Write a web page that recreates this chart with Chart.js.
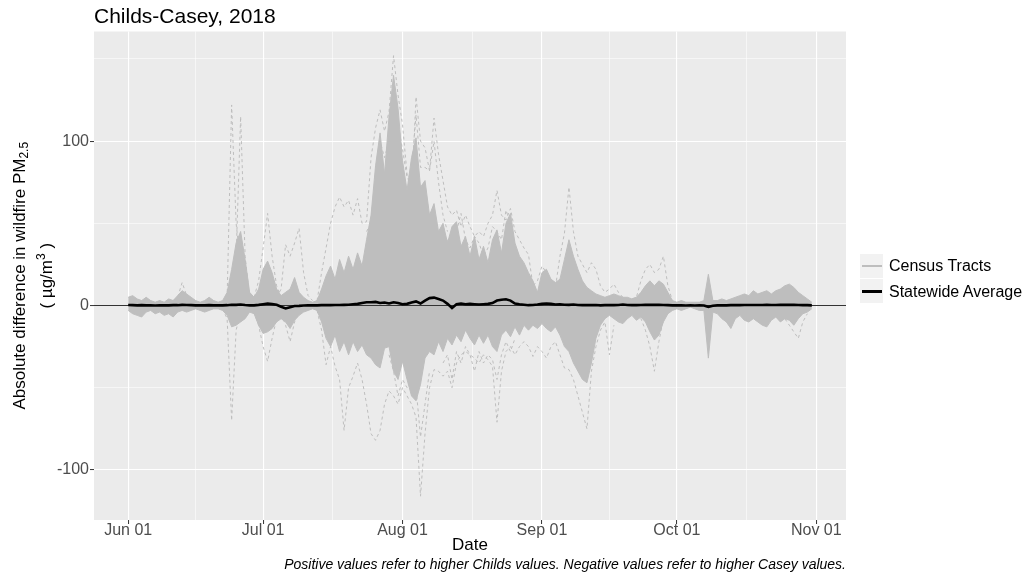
<!DOCTYPE html>
<html>
<head>
<meta charset="utf-8">
<script src="https://cdn.jsdelivr.net/npm/chart.js@4.4.1/dist/chart.umd.min.js"></script>
<style>
html, body { margin: 0; padding: 0; background: #ffffff; }
#wrap { position: relative; width: 1031px; height: 578px; overflow: hidden; }
#c { position: absolute; left: 0; top: 0; }
.lgtxt { position: absolute; font-family: "Liberation Sans", Arial, Helvetica, sans-serif; font-size: 16px; color: #000; height: 20px; line-height: 20px; white-space: nowrap; }
.lgkey { position: absolute; background: #F2F2F2; }
.lgline { position: absolute; }
</style>
</head>
<body>
<div id="wrap">
  <canvas id="c" width="1031" height="578"></canvas>
  <div class="lgkey" style="left:860px;top:254px;width:23px;height:24px;"></div>
  <div class="lgkey" style="left:860px;top:279px;width:23px;height:24px;"></div>
  <div class="lgline" style="left:862px;top:265px;width:20px;height:2px;background:#BEBEBE;"></div>
  <div class="lgline" style="left:862px;top:290px;width:20px;height:3px;background:#000;"></div>
  <div class="lgtxt" style="left:889px;top:256px;">Census Tracts</div>
  <div class="lgtxt" style="left:889px;top:282px;">Statewide Average</div>
</div>
<script>
// ---------- DATA (day index 0 = Jun 01, 2018) ----------
const days = [];
for (let d = 0; d <= 152; d++) days.push(d);

const statewideAvg = [
  0.3,0.2,0.1,0.2,0.1,0.1,0.0,0.1,0.1,0.1,
  0.2,0.2,0.4,0.3,0.2,0.1,0.1,0.1,0.2,0.1,
  0.1,0.1,0.2,0.5,0.4,0.6,0.3,0.1,0.1,0.4,
  0.8,1.2,0.9,0.4,-0.8,-1.8,-1.0,-0.3,-0.2,0.0,
  0.1,0.1,0.1,0.2,0.3,0.2,0.3,0.3,0.4,0.5,
  0.8,1.0,1.5,2.0,2.0,2.2,1.5,1.8,1.2,2.0,
  1.5,0.8,1.0,1.8,2.5,1.2,3.0,4.5,4.8,4.0,
  3.0,1.0,-1.5,0.8,1.2,0.8,1.0,0.8,0.6,0.8,
  1.0,1.5,3.0,3.5,3.8,3.0,1.2,0.8,0.5,0.2,
  0.3,0.6,1.0,1.2,1.0,0.6,0.8,0.5,0.4,0.6,
  0.3,0.2,0.3,0.2,0.3,0.1,0.2,0.3,0.2,0.3,
  0.6,0.3,0.2,0.2,0.3,0.4,0.5,0.4,0.5,0.3,
  0.2,0.1,0.1,0.1,0.0,0.1,0.0,0.1,0.0,-0.8,
  -0.2,0.1,0.1,0.1,0.2,0.2,0.2,0.3,0.3,0.3,
  0.3,0.3,0.4,0.3,0.3,0.4,0.4,0.5,0.4,0.3,
  0.2,0.2,0.1
];

// upper edge of the dense bundle of census-tract lines
const tractsUpper = [
  5,6,4,3,5,3,2,3,2,4,
  3,6,9,7,5,3,2,3,5,3,
  2,3,8,22,38,45,28,8,5,10,
  22,27,20,10,6,8,10,17,8,5,
  3,2,3,10,18,24,16,28,20,30,
  22,32,24,40,55,85,105,80,115,140,
  120,88,70,90,102,72,76,55,62,45,
  50,38,48,51,36,42,30,42,28,36,
  26,40,46,32,50,56,38,30,26,20,
  15,8,20,22,16,14,16,28,40,30,
  22,15,11,9,7,6,5,6,7,6,
  5,5,4,5,8,12,15,12,15,13,
  8,3,2,3,2,2,2,2,3,19,
  3,3,4,3,4,5,6,7,6,9,
  7,8,9,7,9,10,12,13,11,8,
  6,4,2
];

// lower edge of the dense bundle of census-tract lines
const tractsLower = [
  -3,-5,-6,-7,-4,-3,-5,-4,-6,-5,
  -7,-4,-3,-4,-3,-2,-3,-4,-3,-2,
  -2,-3,-6,-13,-12,-10,-8,-4,-5,-12,
  -17,-16,-14,-10,-8,-10,-14,-9,-6,-4,
  -3,-2,-3,-10,-20,-25,-18,-28,-22,-30,
  -22,-28,-24,-30,-32,-36,-38,-26,-25,-40,
  -45,-34,-45,-55,-58,-48,-32,-28,-30,-22,
  -28,-20,-24,-18,-22,-15,-20,-24,-18,-23,
  -18,-25,-28,-18,-15,-19,-13,-18,-12,-15,
  -12,-14,-11,-14,-16,-13,-18,-25,-28,-35,
  -40,-45,-47,-35,-20,-12,-8,-6,-8,-10,
  -11,-8,-6,-9,-7,-10,-16,-21,-18,-10,
  -5,-3,-2,-3,-2,-1,-2,-3,-3,-32,
  -4,-5,-8,-10,-14,-8,-6,-9,-10,-8,
  -10,-12,-13,-9,-7,-10,-8,-9,-12,-8,
  -5,-4,-2
];

// individual extreme census tracts (dashed lines)
const tractA_days = [21,22,23,24,25,26,27];
const tractA_vals = [2,5,122,50,25,8,3];
const tractB_days = [22,23,24,25,26,27];
const tractB_vals = [3,10,30,115,30,5];
const tractC_days = [21,22,23,24,25];
const tractC_vals = [-2,-8,-70,-15,-4];
const tractD_days = [28,29,30,31,32,33,34];
const tractD_vals = [5,15,35,56,30,12,5];
const tractE_days = [28,29,30,31,32,33,34];
const tractE_vals = [-4,-12,-25,-34,-20,-8,-3];
const tractF_days = [33,34,35,36,37,38,39,40,41];
const tractF_vals = [5,10,37,30,38,47,20,6,3];
const tractG_days = [34,35,36,37,38];
const tractG_vals = [-5,-12,-22,-10,-4];
const tractH_days = [42,43,44,45,46,47,48,49,50,51,52,53,54,55,56,57,58,59,60,61,62,63,64,65,66,67,68,69,70,71,72,73,74,75,76,77,78,79,80,81,82,83,84,85,86,87,88,89,90,91,92,93,94,95,96,97,98,99,100,101,102,103,104,105,106,107,108,109,110];
const tractH_vals = [3,20,35,50,60,66,60,64,55,65,50,51,90,108,119,106,118,152,128,110,80,68,127,100,96,82,114,92,76,60,55,58,48,55,48,42,45,42,50,55,70,55,52,59,45,40,35,31,12,15,24,20,14,11,30,44,72,45,30,25,20,26,22,12,8,10,13,8,5];
const tractI_days = [53,54,55,56,57,58,59,60,61,62,63,64,65,66,67,68,69,70,71];
const tractI_vals = [45,50,80,100,90,100,130,110,95,78,80,116,84,84,82,100,75,55,45];
const tractJ_days = [42,43,44,45,46,47,48,49,50,51,52,53,54,55,56,57,58,59,60,61,62,63,64,65,66,67,68,69,70,71,72,73,74,75,76,77,78,79,80,81,82,83,84,85,86,87,88,89,90,91,92,93,94,95,96,97,98,99,100,101,102,103,104,105,106,107,108];
const tractJ_vals = [-3,-15,-36,-25,-37,-45,-76,-50,-43,-35,-45,-60,-78,-82,-76,-60,-52,-55,-60,-50,-55,-60,-68,-116,-78,-50,-39,-40,-43,-40,-50,-35,-30,-28,-30,-32,-35,-30,-33,-37,-71,-40,-28,-25,-30,-25,-22,-25,-31,-25,-28,-32,-25,-22,-30,-38,-39,-45,-55,-65,-75,-40,-25,-15,-10,-30,-12];
const tractK_days = [58,59,60,61,62,63,64,65,66,67];
const tractK_vals = [-30,-40,-55,-45,-50,-45,-50,-80,-60,-40];
const tractL_days = [112,113,114,115,116,117,118,119,120,121];
const tractL_vals = [4,5,15,22,25,20,22,30,12,3];
const tractM_days = [113,114,115,116,117,118,119,120];
const tractM_vals = [-5,-8,-15,-25,-40,-22,-8,-4];
const tractN_days = [145,146,147,148,149,150,151];
const tractN_vals = [-6,-8,-12,-16,-20,-10,-5];
const tractP_days = [10,11,12,13,14];
const tractP_vals = [3,5,14,6,3];
const tractQ_days = [71,72,73,74,75,76,77,78,79,80,81,82,83,84,85,86,87];
const tractQ_vals = [40,30,45,56,40,35,42,38,30,35,48,45,40,58,50,35,28];
const tractR_days = [70,71,72,73,74,75,76,77,78,79,80,81,82,83,84,85,86];
const tractR_vals = [-35,-30,-45,-28,-35,-25,-30,-40,-28,-35,-30,-33,-45,-30,-22,-28,-20];

// axis ticks
const xMajorDays = [0, 30, 61, 92, 122, 153];
const xMajorLabels = ['Jun 01', 'Jul 01', 'Aug 01', 'Sep 01', 'Oct 01', 'Nov 01'];
const xMinorDays = [15, 45.5, 76.5, 107, 137.5];
const yMajor = [-100, 0, 100];
const yMajorLabels = ['-100', '0', '100'];
const yMinor = [-50, 50, 150];

// y-axis title pieces: [text, kind] (kind: n = normal, sub = subscript, sup = superscript)
const yTitleLine1 = [['Absolute difference in wildfire PM', 'n'], ['2.5', 'sub']];
const yTitleLine2 = [['( \u00B5g/m', 'n'], ['3', 'sup'], [' )', 'n']];

// ---------- CHART ----------
const FONT = '"Liberation Sans", Arial, Helvetica, sans-serif';
const GREY = 'rgb(190,190,190)';
const pts = (xs, ys) => xs.map((x, i) => ({ x: x, y: ys[i] }));

const dashedSets = [
  [tractA_days, tractA_vals], [tractB_days, tractB_vals], [tractC_days, tractC_vals],
  [tractD_days, tractD_vals], [tractE_days, tractE_vals], [tractF_days, tractF_vals],
  [tractG_days, tractG_vals], [tractH_days, tractH_vals], [tractI_days, tractI_vals],
  [tractJ_days, tractJ_vals], [tractK_days, tractK_vals], [tractL_days, tractL_vals],
  [tractM_days, tractM_vals], [tractN_days, tractN_vals], [tractP_days, tractP_vals],
  [tractQ_days, tractQ_vals], [tractR_days, tractR_vals]
].map(([xs, ys]) => ({
  label: 'Census Tracts',
  data: pts(xs, ys),
  borderColor: GREY,
  borderWidth: 1,
  borderDash: [3, 3],
  pointRadius: 0,
  fill: false,
  tension: 0
}));

const datasets = [
  {
    label: 'Statewide Average',
    data: pts(days, statewideAvg),
    borderColor: '#000000',
    borderWidth: 2.6,
    pointRadius: 0,
    fill: false,
    tension: 0
  },
  ...dashedSets,
  {
    label: 'Census Tracts',
    data: pts(days, tractsUpper),
    borderColor: GREY,
    backgroundColor: GREY,
    borderWidth: 1,
    pointRadius: 0,
    fill: 'origin',
    tension: 0
  },
  {
    label: 'Census Tracts',
    data: pts(days, tractsLower),
    borderColor: GREY,
    backgroundColor: GREY,
    borderWidth: 1,
    pointRadius: 0,
    fill: 'origin',
    tension: 0
  }
];

const panelBg = {
  id: 'panelBg',
  beforeDraw(chart) {
    const { ctx, chartArea: a } = chart;
    ctx.save();
    ctx.fillStyle = '#EBEBEB';
    ctx.fillRect(a.left, a.top, a.right - a.left, a.bottom - a.top);
    ctx.restore();
  }
};

const zeroLine = {
  id: 'zeroLine',
  beforeDatasetDraw(chart, args) {
    if (args.index !== 0) return;
    const { ctx, chartArea: a } = chart;
    const y = chart.scales.y.getPixelForValue(0);
    ctx.save();
    ctx.strokeStyle = '#333333';
    ctx.lineWidth = 1;
    ctx.beginPath();
    ctx.moveTo(a.left, y);
    ctx.lineTo(a.right, y);
    ctx.stroke();
    ctx.restore();
  }
};

// y-axis title with true subscript / superscript
const yTitle = {
  id: 'yTitle',
  afterDraw(chart) {
    const { ctx, chartArea: a } = chart;
    const cy = (a.top + a.bottom) / 2;
    const fontFor = k => (k === 'n' ? '17px ' : '12px ') + FONT;
    const shiftFor = k => (k === 'sub' ? 4.5 : (k === 'sup' ? -5.5 : 0));
    const drawLine = (parts, cx) => {
      ctx.save();
      ctx.translate(cx, cy);
      ctx.rotate(-Math.PI / 2);
      ctx.fillStyle = '#000000';
      ctx.textBaseline = 'middle';
      ctx.textAlign = 'left';
      let total = 0;
      parts.forEach(([t, k]) => { ctx.font = fontFor(k); total += ctx.measureText(t).width; });
      let x = -total / 2;
      parts.forEach(([t, k]) => {
        ctx.font = fontFor(k);
        ctx.fillText(t, x, shiftFor(k));
        x += ctx.measureText(t).width;
      });
      ctx.restore();
    };
    drawLine(yTitleLine1, 20);
    drawLine(yTitleLine2, 47);
  }
};

const isXMajor = v => xMajorDays.includes(v);
const isYMajor = v => yMajor.includes(v);

new Chart(document.getElementById('c'), {
  type: 'line',
  data: { datasets: datasets },
  options: {
    responsive: false,
    maintainAspectRatio: false,
    devicePixelRatio: 1,
    animation: false,
    events: [],
    layout: { padding: { left: 0, right: 185, top: 0, bottom: 0 } },
    plugins: {
      legend: { display: false },
      tooltip: { enabled: false },
      title: {
        display: true,
        text: 'Childs-Casey, 2018',
        align: 'start',
        fullSize: false,
        color: '#000000',
        font: { family: FONT, size: 21, weight: 'normal', lineHeight: 1.2 },
        padding: { top: 5, bottom: 1.3 }
      },
      subtitle: {
        display: true,
        text: 'Positive values refer to higher Childs values. Negative values refer to higher Casey values.',
        position: 'bottom',
        align: 'end',
        fullSize: false,
        color: '#000000',
        font: { family: FONT, size: 14, style: 'italic', weight: 'normal', lineHeight: 1.2 },
        padding: { top: 0, bottom: 4.6 }
      }
    },
    scales: {
      x: {
        type: 'linear',
        min: -7.6,
        max: 159.6,
        afterBuildTicks: s => {
          s.ticks = xMajorDays.concat(xMinorDays).sort((a, b) => a - b).map(v => ({ value: v }));
        },
        afterFit: s => { s.height = 36.6; },
        border: { display: false },
        grid: {
          color: '#FFFFFF',
          lineWidth: c => (c.tick && isXMajor(c.tick.value)) ? 1.1 : 0.55,
          tickColor: c => (c.tick && isXMajor(c.tick.value)) ? '#333333' : 'rgba(0,0,0,0)',
          tickLength: 4,
          tickWidth: 1
        },
        ticks: {
          autoSkip: false,
          maxRotation: 0,
          minRotation: 0,
          padding: -1,
          color: '#4D4D4D',
          font: { family: FONT, size: 16, lineHeight: 1 },
          callback: v => {
            const i = xMajorDays.indexOf(v);
            return i >= 0 ? xMajorLabels[i] : '';
          }
        },
        title: {
          display: true,
          text: 'Date',
          color: '#000000',
          font: { family: FONT, size: 17, lineHeight: 1.2 },
          padding: { top: 0, bottom: 1.4 }
        }
      },
      y: {
        type: 'linear',
        min: -130.5,
        max: 166.7,
        afterBuildTicks: s => {
          s.ticks = yMajor.concat(yMinor).sort((a, b) => a - b).map(v => ({ value: v }));
        },
        afterFit: s => { s.width = 94; },
        border: { display: false },
        grid: {
          color: '#FFFFFF',
          lineWidth: c => (c.tick && isYMajor(c.tick.value)) ? 1.1 : 0.55,
          tickColor: c => (c.tick && isYMajor(c.tick.value)) ? '#333333' : 'rgba(0,0,0,0)',
          tickLength: 4,
          tickWidth: 1
        },
        ticks: {
          autoSkip: false,
          padding: 1,
          color: '#4D4D4D',
          font: { family: FONT, size: 16, lineHeight: 1.2 },
          callback: v => {
            const i = yMajor.indexOf(v);
            return i >= 0 ? yMajorLabels[i] : '';
          }
        },
        title: { display: false }
      }
    }
  },
  plugins: [panelBg, zeroLine, yTitle]
});
</script>
</body>
</html>
